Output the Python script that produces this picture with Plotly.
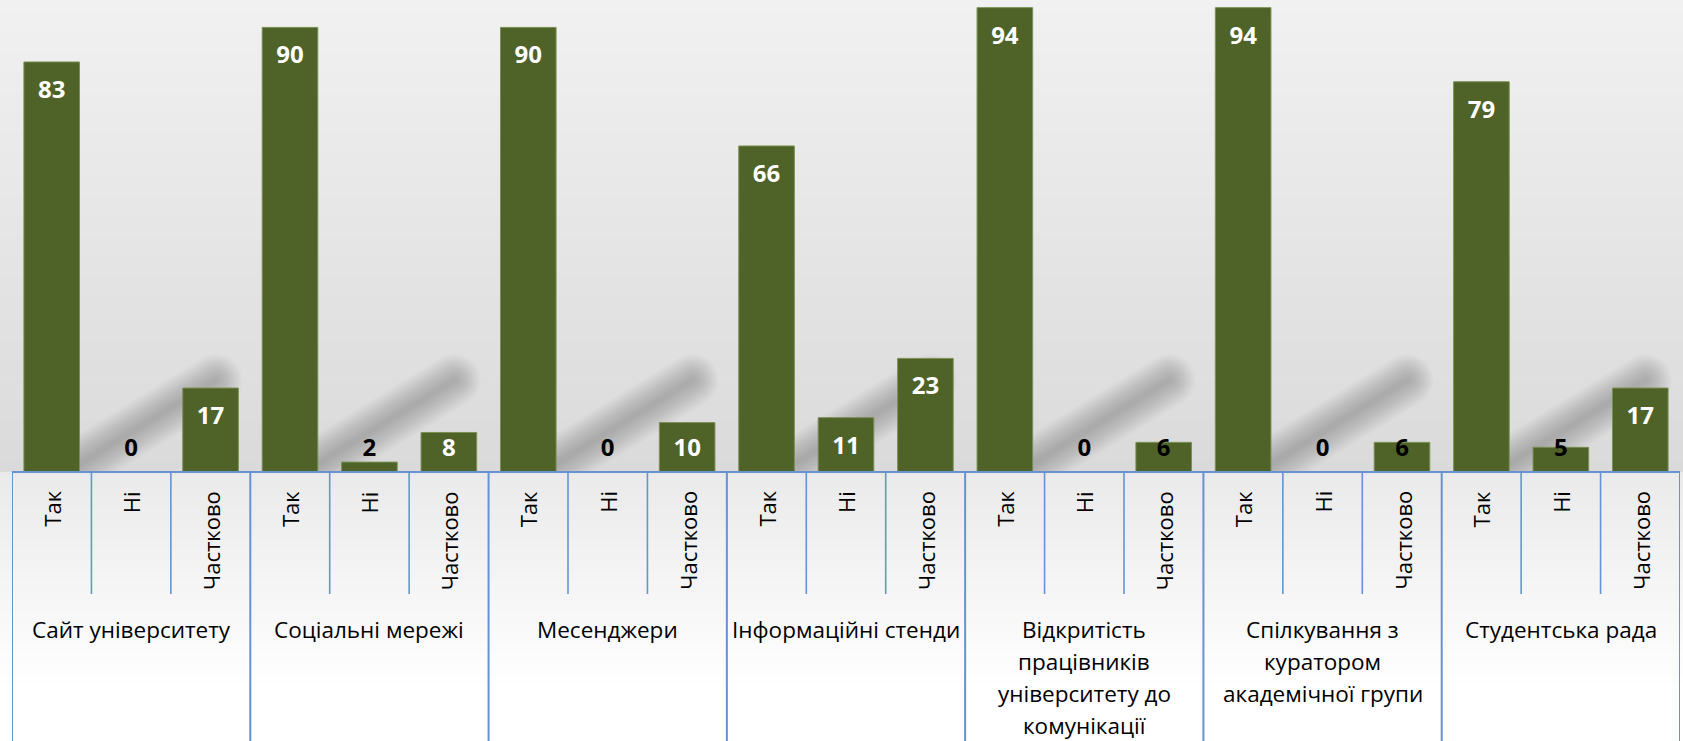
import math
import plotly.graph_objects as go

# ---------------- data ----------------
groups = [
    "Сайт університету",
    "Соціальні мережі",
    "Месенджери",
    "Інформаційні стенди",
    "Відкритість<br>працівників<br>університету до<br>комунікації",
    "Спілкування з<br>куратором<br>академічної групи",
    "Студентська рада",
]
subcats = ["Так", "Ні", "Частково"]
tak = [83, 90, 90, 66, 94, 94, 79]
ni = [0, 2, 0, 11, 0, 0, 5]
chastkovo = [17, 8, 10, 23, 6, 6, 17]

# ---------------- geometry helpers ----------------
W, H = 1683, 741
BASE_PX = 472          # pixel row of the category axis line
PX_PER_UNIT = 4.94
Y_MAX = BASE_PX / PX_PER_UNIT
X_LEFT, X_RIGHT = 12, 1680
FONT = "Open Sans"


def py(ypx):
    return 1 - ypx / H


series = [tak, ni, chastkovo]
xs, ys, labels_sub = [], [], []
for g in range(len(groups)):
    for s in range(len(subcats)):
        xs.append(g * 3 + s)
        ys.append(series[s][g])
        labels_sub.append(subcats[s])

n = len(xs)

fig = go.Figure()

fig.add_trace(go.Bar(
    x=xs, y=ys, width=0.7,
    marker=dict(color="#4f6228", line=dict(color="#7a8f52", width=1)),
    hoverinfo="skip", showlegend=False,
))

# data labels: inside end, clamped above the axis
off_units = 30 / PX_PER_UNIT
min_units = 22.5 / PX_PER_UNIT
lab_y = [max(v - off_units, min_units) for v in ys]
lab_col = ["#ffffff" if v >= 8 else "#000000" for v in ys]
fig.add_trace(go.Scatter(
    x=xs, y=lab_y, mode="text", text=[str(v) for v in ys],
    textposition="middle center",
    textfont=dict(family=FONT, size=24, color=lab_col, weight="bold"),
    hoverinfo="skip", showlegend=False, cliponaxis=False,
))

shapes = []


def grey_at(y):
    if y <= BASE_PX:
        t = y / BASE_PX
        return 241 - 23 * t
    t = min((y - BASE_PX) / (690 - BASE_PX), 1.0)
    return 234 + 21 * t


def strips(y_from, y_to, step=4):
    out = []
    y0 = y_from
    while y0 < y_to:
        y1 = min(y0 + step, y_to)
        g = int(round(grey_at((y0 + y1) / 2)))
        out.append(dict(type="rect", xref="paper", yref="paper",
                        x0=0, x1=1, y0=py(y1), y1=py(y0),
                        fillcolor=f"rgb({g},{g},{g})",
                        line=dict(width=0), layer="below"))
        y0 = y1
    return out


def capsule(ax, ay, bx, by, r, k=12):
    ang = math.atan2(by - ay, bx - ax)
    pts = []
    for i in range(k + 1):
        a = ang + math.pi / 2 + math.pi * i / k
        pts.append((ax + r * math.cos(a), ay + r * math.sin(a)))
    for i in range(k + 1):
        a = ang - math.pi / 2 + math.pi * i / k
        pts.append((bx + r * math.cos(a), by + r * math.sin(a)))
    d = "M " + " L ".join(f"{x / W:.5f},{py(y):.5f}" for x, y in pts) + " Z"
    return d


# plot-area background
shapes += strips(0, BASE_PX)

# soft diagonal shadows behind each group
gw = (X_RIGHT - X_LEFT) / len(groups)
for g in range(len(groups)):
    x0 = X_LEFT + gw * g
    ax, ay = x0 + 64, 466
    bx, by = x0 + 204, 380
    for i in range(14):
        r = 26 - i * 1.8
        shapes.append(dict(type="path", xref="paper", yref="paper",
                           path=capsule(ax, ay, bx, by, r),
                           fillcolor="rgba(0,0,0,0.016)",
                           line=dict(width=0), layer="below"))

# label-area background (covers shadow tails)
shapes += strips(BASE_PX, H)

AX_COL = "#6593d3"
# category axis line
shapes.append(dict(type="line", xref="x", yref="paper", x0=-0.5, x1=n - 0.5,
                   y0=py(BASE_PX), y1=py(BASE_PX),
                   line=dict(color=AX_COL, width=2)))
# dividers
for i in range(n + 1):
    xb = i - 0.5
    bottom = H if i % 3 == 0 else 594
    shapes.append(dict(type="line", xref="x", yref="paper", x0=xb, x1=xb,
                       y0=py(BASE_PX), y1=py(bottom),
                       line=dict(color=AX_COL, width=2 if i % 3 == 0 else 1.6)))

annotations = []
for x, lab in zip(xs, labels_sub):
    annotations.append(dict(x=x, y=py(489), xref="x", yref="paper",
                            text=lab, textangle=-90, showarrow=False,
                            xanchor="center", yanchor="top",
                            font=dict(family=FONT, size=22, color="#000000")))

for g, name in enumerate(groups):
    for li, line in enumerate(name.split("<br>")):
        annotations.append(dict(x=g * 3 + 1, y=py(629 + 32.3 * li),
                                xref="x", yref="paper", text=line,
                                showarrow=False, xanchor="center",
                                yanchor="middle",
                                font=dict(family=FONT, size=22.5, color="#000000")))

fig.update_layout(
    width=W, height=H,
    margin=dict(l=0, r=0, t=0, b=0),
    paper_bgcolor="#ffffff", plot_bgcolor="rgba(0,0,0,0)",
    xaxis=dict(domain=[X_LEFT / W, X_RIGHT / W], range=[-0.5, n - 0.5],
               visible=False, showgrid=False, zeroline=False, fixedrange=True),
    yaxis=dict(domain=[py(BASE_PX), 1], range=[0, Y_MAX],
               visible=False, showgrid=False, zeroline=False, fixedrange=True),
    shapes=shapes, annotations=annotations,
    bargap=0, showlegend=False,
)

fig.write_html("out.html",
               config={"displayModeBar": False, "staticPlot": True},
               post_script="document.body.style.margin='0px';"
                           "document.body.style.overflow='hidden';")
